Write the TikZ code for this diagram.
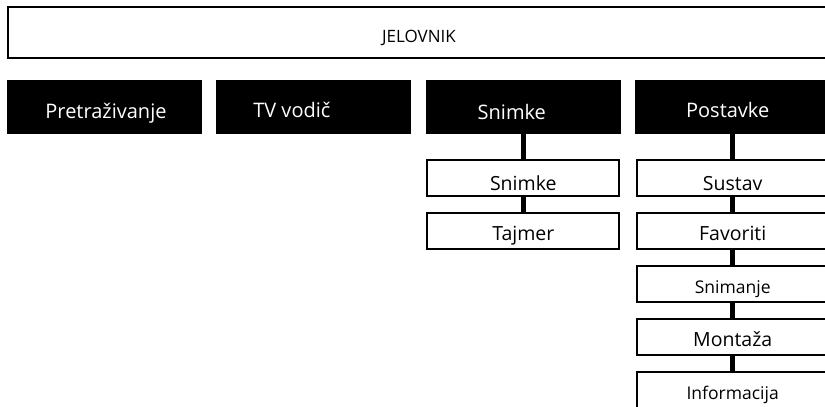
\documentclass[tikz,border=0pt]{standalone}
\usepackage{fontspec}
\setsansfont{Open Sans}
\usetikzlibrary{positioning}

\begin{document}
\begin{tikzpicture} [
      x=1pt, y=1pt,
      font=\sffamily,
      node distance=15pt and 14pt,
      menu/.style={rectangle, draw=black, line width=2.2pt, minimum width=822pt, minimum height=51pt, inner sep=0pt, font=\sffamily\fontsize{17}{20}\selectfont, text height=19pt, text depth=0pt},
      tab/.style={rectangle, fill=black, minimum width=195pt, minimum height=54pt, inner sep=0pt},
      tabtext/.style={text=white, inner sep=0pt, font=\sffamily\fontsize{20}{24}\selectfont, text height=22pt, text depth=0pt},
      item/.style={rectangle, draw=black, line width=2pt, fill=white, minimum width=192pt, minimum height=36pt, inner sep=0pt, font=\sffamily\fontsize{19.5}{23}\selectfont, text height=19pt, text depth=0pt},
      first/.style={text height=26pt},
      small/.style={font=\sffamily\fontsize{17.5}{21}\selectfont},
      link/.style={draw=black, line width=5pt}
  ]
  \useasboundingbox (0,0) rectangle (825,-407);
  \clip (0,0) rectangle (825,-407);

  \node[menu] (jelovnik) at (419,-32.5) {JELOVNIK};

  \node[tab, label={[tabtext, xshift=1.5pt]center:Pretraživanje}] (pretraga) at (104.5,-107) {};
  \node[tab, right=of pretraga, label={[tabtext, xshift=-22pt, yshift=1pt]center:TV vodič}] (vodic) {};
  \node[tab, right=of vodic, label={[tabtext, xshift=-11.5pt, yshift=-1pt]center:Snimke}] (snimke) {};
  \node[tab, right=of snimke, label={[tabtext, xshift=-5pt, yshift=1pt]center:Postavke}] (postavke) {};

  % Snimke
  \node[item, first, below=24.5pt of snimke] (snimkeA) {Snimke};
  \node[item, below=of snimkeA] (tajmer) {Tajmer};

  % Postavke
  \node[item, first, below=24.5pt of postavke] (sustav) {Sustav};
  \node[item, below=of sustav] (favoriti) {Favoriti};
  \node[item, small, below=of favoriti] (snimanje) {Snimanje};
  \node[item, below=of snimanje] (montaza) {Montaža};
  \node[item, small, below=of montaza] (info) {Informacija};

  \draw[link] (snimke) -- (snimkeA);
  \draw[link] (snimkeA) -- (tajmer);
  \draw[link] (postavke) -- (sustav);
  \draw[link] (sustav) -- (favoriti);
  \draw[link] (favoriti) -- (snimanje);
  \draw[link] (snimanje) -- (montaza);
  \draw[link] (montaza) -- (info);
  \end{tikzpicture}
\end{document}
